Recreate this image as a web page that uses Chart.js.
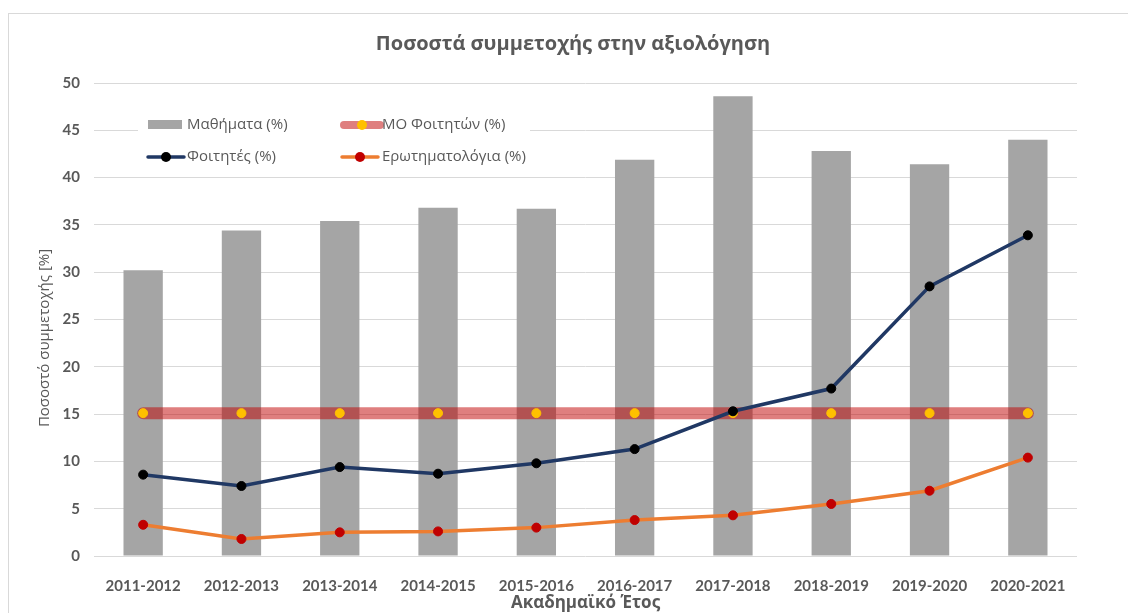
<!DOCTYPE html>
<html>
<head>
<meta charset="utf-8">
<script src="https://cdn.jsdelivr.net/npm/chart.js@4/dist/chart.umd.min.js"></script>
<style>
  body { margin: 0; background: #fff; }
  #wrap { position: relative; width: 1128px; height: 613px; }
  #frame { position: absolute; left: 8px; top: 13px; right: -2px; bottom: -2px;
           border-left: 1px solid #d9d9d9; border-top: 1px solid #d9d9d9; }
  canvas { position: absolute; left: 0; top: 0; }
</style>
</head>
<body>
<div id="wrap">
  <div id="frame"></div>
  <canvas id="myChart"></canvas>
</div>
<script>
const years = ['2011-2012', '2012-2013', '2013-2014', '2014-2015', '2015-2016',
               '2016-2017', '2017-2018', '2018-2019', '2019-2020', '2020-2021'];
const coursesPct = [30.2, 34.4, 35.4, 36.8, 36.7, 41.9, 48.6, 42.8, 41.4, 44.0];
const studentsPct = [8.6, 7.4, 9.4, 8.7, 9.8, 11.3, 15.3, 17.7, 28.5, 33.9];
const questionnairesPct = [3.3, 1.8, 2.5, 2.6, 3.0, 3.8, 4.3, 5.5, 6.9, 10.4];
const studentsMean = [15.1, 15.1, 15.1, 15.1, 15.1, 15.1, 15.1, 15.1, 15.1, 15.1];

const grey = '#595959';
const tickFont = { family: 'Lato, "Open Sans", sans-serif', size: 15, weight: 'bold' };

// title, y axis title and the boxed legend inside the plot
const overlay = {
  id: 'overlay',
  afterDraw(chart) {
    const ctx = chart.ctx;
    ctx.save();
    ctx.fillStyle = grey;
    ctx.textBaseline = 'middle';
    ctx.textAlign = 'center';
    ctx.font = 'bold 20px "Open Sans", sans-serif';
    ctx.fillText('Ποσοστά συμμετοχής στην αξιολόγηση', 573, 44);

    ctx.save();
    ctx.translate(45, 338);
    ctx.rotate(-Math.PI / 2);
    ctx.font = '15px "Open Sans", sans-serif';
    ctx.fillText('Ποσοστό συμμετοχής [%]', 0, 0);
    ctx.restore();

    // legend
    ctx.fillStyle = '#fff';
    ctx.fillRect(138, 110, 392, 62);
    ctx.font = '15px "Open Sans", sans-serif';
    ctx.textAlign = 'left';

    ctx.fillStyle = '#a5a5a5';
    ctx.fillRect(148, 120, 34, 9);
    ctx.fillStyle = grey;
    ctx.fillText('Μαθήματα (%)', 187, 125);

    const lineKey = (x, y, color, width, dot) => {
      ctx.strokeStyle = color;
      ctx.lineWidth = width;
      ctx.lineCap = 'round';
      ctx.beginPath();
      ctx.moveTo(x, y);
      ctx.lineTo(x + 36, y);
      ctx.stroke();
      ctx.fillStyle = dot;
      ctx.beginPath();
      ctx.arc(x + 18, y, 5, 0, Math.PI * 2);
      ctx.fill();
    };
    lineKey(344, 125, 'rgba(192,0,0,0.5)', 8, '#ffc000');
    lineKey(148, 157, '#203864', 3.5, '#000');
    lineKey(342, 157, '#ed7d31', 3.5, '#c00000');

    ctx.fillStyle = grey;
    ctx.fillText('ΜΟ Φοιτητών (%)', 382, 125);
    ctx.fillText('Φοιτητές (%)', 187, 157);
    ctx.fillText('Ερωτηματολόγια (%)', 382, 157);
    ctx.restore();
  }
};

const data = {
  labels: years,
  datasets: [
    {
      type: 'line',
      label: 'Φοιτητές (%)',
      data: studentsPct,
      order: 1,
      borderColor: '#203864',
      borderWidth: 3.5,
      pointBackgroundColor: '#000',
      pointBorderColor: '#000',
      pointBorderWidth: 1,
      pointRadius: 4.5
    },
    {
      type: 'line',
      label: 'Ερωτηματολόγια (%)',
      data: questionnairesPct,
      order: 2,
      borderColor: '#ed7d31',
      borderWidth: 3.5,
      pointBackgroundColor: '#c00000',
      pointBorderColor: '#c00000',
      pointBorderWidth: 1,
      pointRadius: 4.5
    },
    {
      type: 'line',
      label: 'ΜΟ Φοιτητών (%)',
      data: studentsMean,
      order: 3,
      borderColor: 'rgba(192,0,0,0.5)',
      borderWidth: 12,
      borderCapStyle: 'round',
      pointBackgroundColor: '#ffc000',
      pointBorderColor: '#ffc000',
      pointBorderWidth: 1,
      pointRadius: 4.5
    },
    {
      type: 'bar',
      label: 'Μαθήματα (%)',
      data: coursesPct,
      order: 4,
      backgroundColor: '#a5a5a5',
      barPercentage: 0.4,
      categoryPercentage: 1
    }
  ]
};

const config = {
  data: data,
  options: {
    responsive: false,
    animation: false,
    layout: { padding: { left: 35, right: 51, top: 83, bottom: 0 } },
    plugins: {
      legend: { display: false },
      title: { display: false },
      tooltip: { enabled: false }
    },
    scales: {
      x: {
        offset: true,
        grid: { display: false },
        border: { display: false },
        ticks: { color: grey, font: tickFont, padding: 13 },
        title: {
          display: true,
          text: 'Ακαδημαϊκό Έτος',
          color: grey,
          font: { family: '"Open Sans", sans-serif', size: 17, weight: 'bold' },
          padding: { top: 0, bottom: 0 }
        },
        afterFit(scale) { scale.height = 57; }
      },
      y: {
        min: 0,
        max: 50,
        ticks: { stepSize: 5, color: grey, font: tickFont, padding: 14 },
        grid: { color: '#d9d9d9', lineWidth: 1, drawTicks: false },
        border: { display: false },
        afterFit(scale) { scale.width = 59; }
      }
    }
  },
  plugins: [overlay]
};

const canvas = document.getElementById('myChart');
canvas.width = 1128;
canvas.height = 613;
const myChart = new Chart(canvas, config);
</script>
</body>
</html>
